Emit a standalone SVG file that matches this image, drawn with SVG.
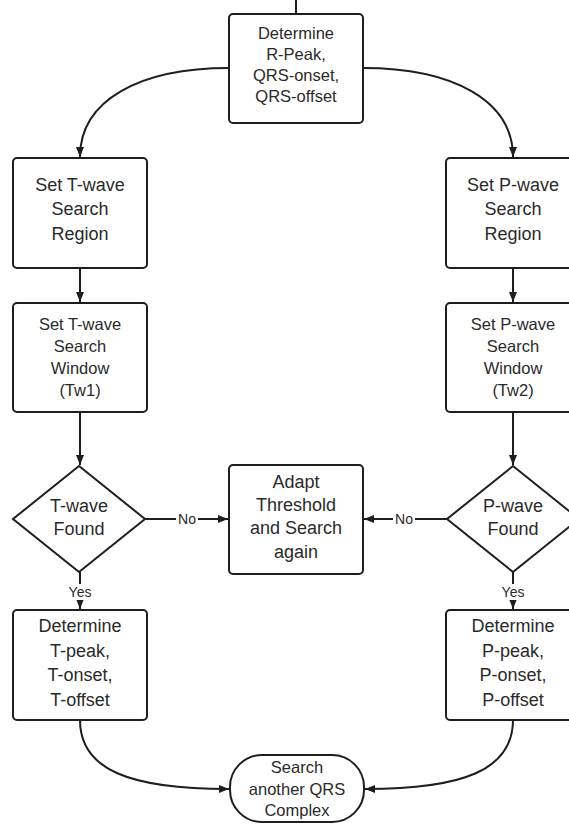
<svg xmlns="http://www.w3.org/2000/svg" width="569" height="824" viewBox="0 0 569 824">
  <defs>
    <marker id="arrow" viewBox="0 0 10 8" refX="10" refY="4" markerWidth="10" markerHeight="8" markerUnits="userSpaceOnUse" orient="auto">
      <path d="M0,0 L10,4 L0,8 z" fill="#1e1e1e"/>
    </marker>
    <style>
      .box { fill: #ffffff; stroke: #1e1e1e; stroke-width: 2; }
      .edge { fill: none; stroke: #1e1e1e; stroke-width: 2; }
      .lbl { font-family: "Liberation Sans", Arial, sans-serif; fill: #2a2a2a; text-anchor: middle; }
      .t18 { font-size: 18px; }
      .t165 { font-size: 16.5px; }
      .t14 { font-size: 14px; }
      .bg { fill: #ffffff; }
    </style>
  </defs>
  <rect width="569" height="824" fill="#ffffff"/>

  <!-- connectors -->
  <g id="connectors">
    <line class="edge" x1="296" y1="0" x2="296" y2="14" stroke-width="2.5"/>
    <path class="edge" d="M229,68 C140,68 80,100 80,157" marker-end="url(#arrow)"/>
    <path class="edge" d="M363,68 C452,68 513,100 513,157" marker-end="url(#arrow)"/>
    <line class="edge" x1="80" y1="268" x2="80" y2="302" marker-end="url(#arrow)"/>
    <line class="edge" x1="513" y1="268" x2="513" y2="302" marker-end="url(#arrow)"/>
    <line class="edge" x1="80" y1="412" x2="80" y2="465" marker-end="url(#arrow)"/>
    <line class="edge" x1="513" y1="412" x2="513" y2="465" marker-end="url(#arrow)"/>
    <line class="edge" x1="145" y1="519" x2="228" y2="519" marker-end="url(#arrow)"/>
    <line class="edge" x1="447" y1="519" x2="364" y2="519" marker-end="url(#arrow)"/>
    <line class="edge" x1="80" y1="572" x2="80" y2="609" marker-end="url(#arrow)"/>
    <line class="edge" x1="513" y1="572" x2="513" y2="609" marker-end="url(#arrow)"/>
    <path class="edge" d="M80,720 C80,770 130,789 229,789" marker-end="url(#arrow)"/>
    <path class="edge" d="M513,720 C513,770 463,789 365,789" marker-end="url(#arrow)"/>
    <!-- edge labels -->
    <rect class="bg" x="176" y="510" width="22" height="17"/>
    <text class="lbl t14" x="187" y="524">No</text>
    <rect class="bg" x="393" y="510" width="22" height="17"/>
    <text class="lbl t14" x="404" y="524">No</text>
    <rect class="bg" x="68" y="584" width="24" height="16"/>
    <text class="lbl t14" x="80" y="597">Yes</text>
    <rect class="bg" x="501" y="584" width="24" height="16"/>
    <text class="lbl t14" x="513" y="597">Yes</text>
  </g>

  <g id="qrs">
    <rect class="box" x="229" y="14" width="134" height="109" rx="4"/>
    <text class="lbl t165" x="296" y="39">Determine</text>
    <text class="lbl t165" x="296" y="60">R-Peak,</text>
    <text class="lbl t165" x="296" y="81">QRS-onset,</text>
    <text class="lbl t165" x="296" y="102">QRS-offset</text>
  </g>

  <g id="t-region">
    <rect class="box" x="13" y="158" width="134" height="110" rx="4"/>
    <text class="lbl t18" x="80" y="191">Set T-wave</text>
    <text class="lbl t18" x="80" y="215">Search</text>
    <text class="lbl t18" x="80" y="240">Region</text>
  </g>

  <g id="p-region">
    <rect class="box" x="446" y="158" width="134" height="110" rx="4"/>
    <text class="lbl t18" x="513" y="191">Set P-wave</text>
    <text class="lbl t18" x="513" y="215">Search</text>
    <text class="lbl t18" x="513" y="240">Region</text>
  </g>

  <g id="t-window">
    <rect class="box" x="13" y="303" width="134" height="109" rx="4"/>
    <text class="lbl t165" x="80" y="330">Set T-wave</text>
    <text class="lbl t165" x="80" y="352">Search</text>
    <text class="lbl t165" x="80" y="374">Window</text>
    <text class="lbl t165" x="80" y="396">(Tw1)</text>
  </g>

  <g id="p-window">
    <rect class="box" x="446" y="303" width="134" height="109" rx="4"/>
    <text class="lbl t165" x="513" y="330">Set P-wave</text>
    <text class="lbl t165" x="513" y="352">Search</text>
    <text class="lbl t165" x="513" y="374">Window</text>
    <text class="lbl t165" x="513" y="396">(Tw2)</text>
  </g>

  <g id="t-found">
    <polygon class="box" points="79,466 145,519 79,572 13,519"/>
    <text class="lbl t18" x="79" y="512">T-wave</text>
    <text class="lbl t18" x="79" y="535">Found</text>
  </g>

  <g id="p-found">
    <polygon class="box" points="513,466 579,519 513,572 447,519"/>
    <text class="lbl t18" x="513" y="512">P-wave</text>
    <text class="lbl t18" x="513" y="535">Found</text>
  </g>

  <g id="adapt">
    <rect class="box" x="229" y="465" width="134" height="109" rx="4"/>
    <text class="lbl t18" x="296" y="488">Adapt</text>
    <text class="lbl t18" x="296" y="511">Threshold</text>
    <text class="lbl t18" x="296" y="534">and Search</text>
    <text class="lbl t18" x="296" y="558">again</text>
  </g>

  <g id="t-determine">
    <rect class="box" x="13" y="610" width="134" height="110" rx="4"/>
    <text class="lbl t18" x="80" y="632">Determine</text>
    <text class="lbl t18" x="80" y="657">T-peak,</text>
    <text class="lbl t18" x="80" y="681">T-onset,</text>
    <text class="lbl t18" x="80" y="706">T-offset</text>
  </g>

  <g id="p-determine">
    <rect class="box" x="446" y="610" width="134" height="110" rx="4"/>
    <text class="lbl t18" x="513" y="632">Determine</text>
    <text class="lbl t18" x="513" y="657">P-peak,</text>
    <text class="lbl t18" x="513" y="681">P-onset,</text>
    <text class="lbl t18" x="513" y="706">P-offset</text>
  </g>

  <g id="next-qrs">
    <rect class="box" x="230" y="755" width="134" height="67" rx="32" ry="32"/>
    <text class="lbl t165" x="297" y="773">Search</text>
    <text class="lbl t165" x="297" y="795">another QRS</text>
    <text class="lbl t165" x="297" y="816">Complex</text>
  </g>
</svg>
